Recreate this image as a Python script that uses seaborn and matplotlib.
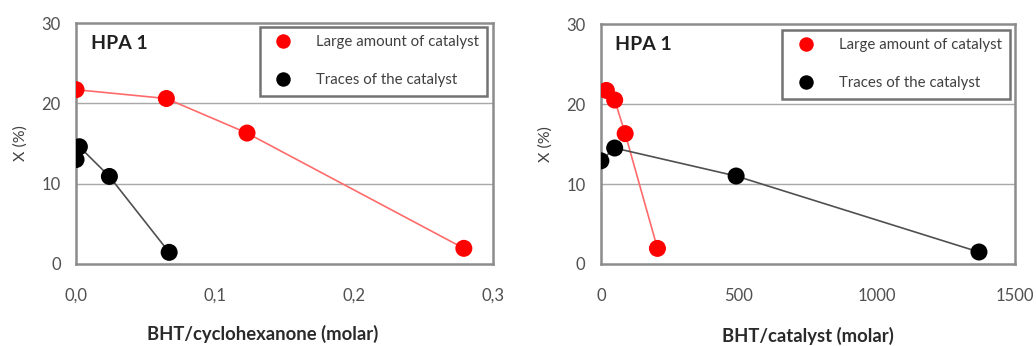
import matplotlib
matplotlib.use("Agg")
import matplotlib.pyplot as plt
import seaborn as sns
import pandas as pd
from matplotlib.ticker import FuncFormatter

# data
series_names = ["Large amount of catalyst", "Traces of the catalyst"]
series_colors = ["#ff0000", "#000000"]
line_colors = ["#ff6b6b", "#505050"]

# left panel: BHT/cyclohexanone (molar)
ratio_large = [0.0, 0.065, 0.123, 0.279]
conv_large_left = [21.7, 20.6, 16.3, 1.95]
ratio_traces = [0.0, 0.0024, 0.024, 0.067]
conv_traces_left = [13.0, 14.6, 10.9, 1.45]

# right panel: BHT/catalyst (molar)
cat_large = [20, 50, 88, 205]
conv_large_right = [21.7, 20.5, 16.3, 1.95]
cat_traces = [0, 50, 490, 1370]
conv_traces_right = [12.9, 14.5, 11.0, 1.5]

y_ticks = [0, 10, 20, 30]
left_xticks = [0.0, 0.1, 0.2, 0.3]
right_xticks = [0, 500, 1000, 1500]

sns.set_style("white")
plt.rcParams['font.family'] = ['Lato', 'DejaVu Sans']
text_col = "#404040"

fig = plt.figure(figsize=(10.36, 3.46), dpi=100)
ax1 = fig.add_axes([0.0734, 0.237, 0.4025, 0.6965])
ax2 = fig.add_axes([0.580, 0.237, 0.3996, 0.6935])


def make_df(xa, ya, xb, yb):
    a = pd.DataFrame({"x": xa, "y": ya, "series": series_names[0]})
    b = pd.DataFrame({"x": xb, "y": yb, "series": series_names[1]})
    return pd.concat([a, b], ignore_index=True)


def draw(ax, df, xlim, xticks, xlabel, fmt, legend_anchor, xlabelpad, xlabel_x):
    for i, name in enumerate(series_names):
        sub = df[df["series"] == name]
        sns.lineplot(data=sub, x="x", y="y", ax=ax, sort=False, color=line_colors[i],
                     linewidth=1.2, legend=False, zorder=2)
    sns.scatterplot(data=df, x="x", y="y", hue="series", palette=series_colors,
                    hue_order=series_names, s=150, edgecolor="none", ax=ax, zorder=3)

    ax.set_xlim(xlim)
    ax.set_ylim(0, 30)
    ax.set_xticks(xticks)
    ax.set_yticks(y_ticks)
    ax.xaxis.set_major_formatter(FuncFormatter(fmt))
    for yv in [10, 20]:
        ax.axhline(yv, color="#a8a8a8", linewidth=1.0, zorder=1)
    for sp in ax.spines.values():
        sp.set_color("#8c8c8c")
        sp.set_linewidth(1.8)
    ax.tick_params(axis="both", direction="out", length=5, width=1.5, color="#8c8c8c",
                   labelsize=12, labelcolor="#505050")
    ax.tick_params(axis="x", pad=12)
    ax.tick_params(axis="y", pad=6)
    ax.set_xlabel(xlabel, fontsize=13.3, fontweight="bold", color="#2a2a2a",
                  labelpad=xlabelpad)
    ax.xaxis.label.set_x(xlabel_x)
    ax.set_ylabel("X (%)", fontsize=11.5, color=text_col, labelpad=10)
    ax.text(0.035, 0.95, "HPA 1", transform=ax.transAxes, fontsize=14, fontweight="bold",
            color="#202020", va="top", ha="left")

    leg = ax.legend(loc="upper right", bbox_to_anchor=legend_anchor, fontsize=10.8,
                    frameon=True, fancybox=False, labelspacing=1.6, handletextpad=1.2,
                    borderpad=0.55, borderaxespad=0, markerscale=0.85)
    leg.get_frame().set_edgecolor("#505050")
    leg.get_frame().set_linewidth(1.8)
    for t in leg.get_texts():
        t.set_color(text_col)


draw(ax1, make_df(ratio_large, conv_large_left, ratio_traces, conv_traces_left),
     (0, 0.3), left_xticks, "BHT/cyclohexanone (molar)",
     lambda v, p: f"{v:.1f}".replace(".", ","), (0.986, 0.983), 15, 0.448)
draw(ax2, make_df(cat_large, conv_large_right, cat_traces, conv_traces_right),
     (0, 1500), right_xticks, "BHT/catalyst (molar)",
     lambda v, p: f"{v:.0f}", (0.988, 0.975), 17, 0.5)

fig.savefig("out.png", dpi=100, facecolor="white")
